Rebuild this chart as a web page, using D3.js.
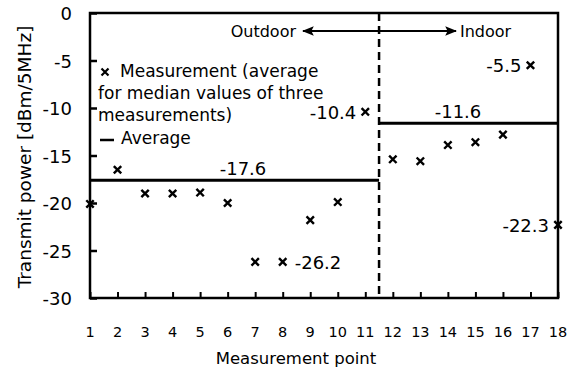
<!DOCTYPE html>
<html>
<head>
<meta charset="UTF-8" />
<title>Transmit power</title>
<script src="https://d3js.org/d3.v7.min.js"></script>
<style>
body { margin: 0; background: #fff; }
svg text { font-family: "DejaVu Sans", sans-serif; fill: #000; }
</style>
</head>
<body>
<div id="chart"></div>
<script>
// data
var points = [1, 2, 3, 4, 5, 6, 7, 8, 9, 10, 11, 12, 13, 14, 15, 16, 17, 18];
var power = [-20.1, -16.5, -19.0, -19.0, -18.9, -20.0, -26.2, -26.2, -21.8, -19.9, -10.4,
             -15.4, -15.6, -13.9, -13.6, -12.8, -5.5, -22.3];
var yTicks = [0, -5, -10, -15, -20, -25, -30];
var averages = [-17.6, -11.6];          // outdoor, indoor
var splitAt = 11.5;                    // boundary outdoor / indoor
// value labels: [point, text, side]
var pointLabels = [[11, '-10.4', 'left'], [17, '-5.5', 'left'], [8, '-26.2', 'right'], [18, '-22.3', 'left']];

var width = 575, height = 373;
var margin = {top: 13, right: 17, bottom: 75, left: 90};

var svg = d3.select('#chart').append('svg')
    .attr('width', width)
    .attr('height', height);

var x = d3.scaleLinear().domain([1, 18]).range([margin.left, width - margin.right]);
var y = d3.scaleLinear().domain([-30, 0]).range([height - margin.bottom, margin.top]);

// box
svg.append('rect')
    .attr('x', x(1)).attr('y', y(0))
    .attr('width', x(18) - x(1)).attr('height', y(-30) - y(0))
    .attr('fill', 'none').attr('stroke', '#000').attr('stroke-width', 2.5);

// y axis, ticks inside
var yAxis = svg.append('g')
    .attr('transform', 'translate(' + x(1) + ',0)')
    .call(d3.axisRight(y).tickValues(yTicks).tickSize(7).tickFormat(''));
yAxis.select('.domain').remove();
yAxis.selectAll('line').attr('stroke-width', 2.5);

svg.selectAll('.ylab')
    .data(yTicks)
    .enter().append('text')
    .attr('class', 'ylab')
    .attr('x', 72)
    .attr('y', function(d) { return y(d) + 7; })
    .attr('text-anchor', 'end')
    .style('font-size', '18px')
    .text(function(d) { return d; });

// x axis, ticks inside
var xAxis = svg.append('g')
    .attr('transform', 'translate(0,' + y(-30) + ')')
    .call(d3.axisTop(x).tickValues(points).tickSize(6).tickFormat(''));
xAxis.select('.domain').remove();
xAxis.selectAll('line').attr('stroke-width', 2);

svg.selectAll('.xlab')
    .data(points)
    .enter().append('text')
    .attr('class', 'xlab')
    .attr('x', function(d) { return x(d); })
    .attr('y', y(-30) + 39)
    .attr('text-anchor', 'middle')
    .style('font-size', '14.5px')
    .text(function(d) { return d; });

svg.append('text')
    .attr('x', 296)
    .attr('y', 364)
    .attr('text-anchor', 'middle')
    .style('font-size', '16.5px')
    .text('Measurement point');

svg.append('text')
    .attr('transform', 'translate(31,157) rotate(-90)')
    .attr('text-anchor', 'middle')
    .style('font-size', '18.5px')
    .text('Transmit power [dBm/5MHz]');

// split line
svg.append('line')
    .attr('x1', x(splitAt)).attr('x2', x(splitAt))
    .attr('y1', y(0)).attr('y2', y(-30))
    .attr('stroke', '#000').attr('stroke-width', 2.5)
    .attr('stroke-dasharray', '8,5');

// average lines
var avgSpans = [[1, splitAt], [splitAt, 18]];
svg.selectAll('.avg')
    .data(averages)
    .enter().append('line')
    .attr('class', 'avg')
    .attr('x1', function(d, i) { return x(avgSpans[i][0]); })
    .attr('x2', function(d, i) { return x(avgSpans[i][1]); })
    .attr('y1', function(d) { return y(d); })
    .attr('y2', function(d) { return y(d); })
    .attr('stroke', '#000').attr('stroke-width', 3);

svg.selectAll('.avglab')
    .data(averages)
    .enter().append('text')
    .attr('class', 'avglab')
    .attr('x', function(d, i) { return i === 0 ? 243 : 458; })
    .attr('y', function(d) { return y(d) - 5.5; })
    .attr('text-anchor', 'middle')
    .style('font-size', '18px')
    .text(function(d) { return d.toFixed(1); });

// markers
var cross = function(cx, cy, r) {
    return 'M' + (cx - r) + ',' + (cy - r) + 'L' + (cx + r) + ',' + (cy + r) +
           'M' + (cx - r) + ',' + (cy + r) + 'L' + (cx + r) + ',' + (cy - r);
};
svg.selectAll('.pt')
    .data(power)
    .enter().append('path')
    .attr('class', 'pt')
    .attr('d', function(d, i) { return cross(x(points[i]), y(d), 3.7); })
    .attr('stroke', '#000').attr('stroke-width', 2.4);

svg.selectAll('.ptlab')
    .data(pointLabels)
    .enter().append('text')
    .attr('class', 'ptlab')
    .attr('x', function(d) { return x(d[0]) + (d[2] === 'left' ? -9 : 12); })
    .attr('y', function(d) { return y(power[d[0] - 1]) + 7; })
    .attr('text-anchor', function(d) { return d[2] === 'left' ? 'end' : 'start'; })
    .style('font-size', '18px')
    .text(function(d) { return d[1]; });

// outdoor / indoor arrow
svg.append('defs').append('marker')
    .attr('id', 'head')
    .attr('viewBox', '0 0 10 10')
    .attr('refX', 9).attr('refY', 5)
    .attr('markerWidth', 6).attr('markerHeight', 6)
    .attr('orient', 'auto-start-reverse')
    .append('path')
    .attr('d', 'M0,1L10,5L0,9L2,5Z');
svg.append('line')
    .attr('x1', 303).attr('x2', 456)
    .attr('y1', 31).attr('y2', 31)
    .attr('stroke', '#000').attr('stroke-width', 2)
    .attr('marker-start', 'url(#head)')
    .attr('marker-end', 'url(#head)');
svg.append('text').attr('x', 296).attr('y', 36.5).attr('text-anchor', 'end')
    .style('font-size', '16px').text('Outdoor');
svg.append('text').attr('x', 460).attr('y', 36.5)
    .style('font-size', '16px').text('Indoor');

// legend
var lg = svg.append('g');
lg.append('path').attr('d', cross(105, 72, 3.5)).attr('stroke', '#000').attr('stroke-width', 2.2);
lg.append('text').attr('x', 120).attr('y', 77).style('font-size', '17px').text('Measurement (average');
lg.append('text').attr('x', 98).attr('y', 99).style('font-size', '17px').text('for median values of three');
lg.append('text').attr('x', 98).attr('y', 121).style('font-size', '17px').text('measurements)');
lg.append('line').attr('x1', 100).attr('x2', 114).attr('y1', 140).attr('y2', 140)
    .attr('stroke', '#000').attr('stroke-width', 2.5);
lg.append('text').attr('x', 121).attr('y', 144).style('font-size', '17px').text('Average');
</script>
</body>
</html>
